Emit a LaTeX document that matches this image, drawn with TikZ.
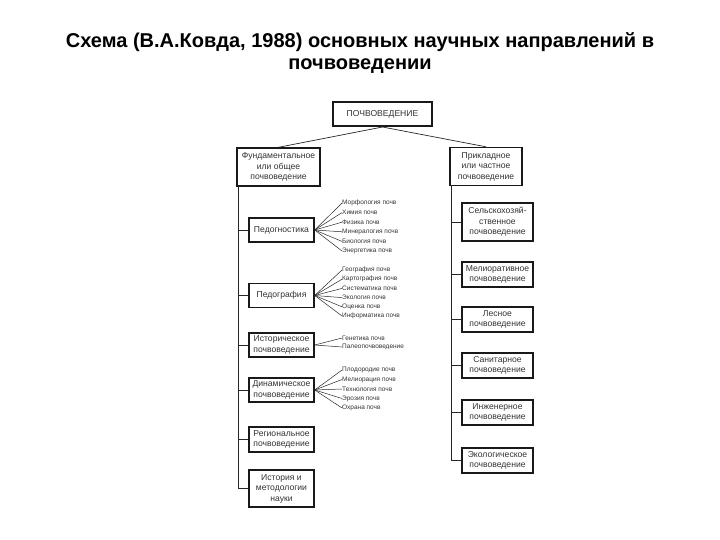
\documentclass[tikz,border=0pt]{standalone}
\usepackage{fontspec}
\setmainfont{Liberation Sans}
\usetikzlibrary{calc}
\begin{document}
\begin{tikzpicture}[x=1pt,y=-1pt,
  boxst/.style={draw=black!90,line width=1.4pt,align=center,inner sep=1pt,
    font=\fontsize{8.6}{10.5}\selectfont,text=black!80},
  item/.style={anchor=west,inner sep=0pt,font=\fontsize{6.5}{7}\selectfont,text=black!80},
  conn/.style={draw=black!85,line width=0.7pt},
  fan/.style={draw=black!85,line width=0.5pt}]
\useasboundingbox (0,0) rectangle (720,540);
\node[font=\bfseries\fontsize{20}{22}\selectfont,align=center] (title) at (360,53)
  {Схема (В.А.Ковда, 1988) основных научных направлений в\\почвоведении};
% top
\node[boxst,line width=2pt,minimum width=99pt,minimum height=24pt] (T) at (382.5,114) {ПОЧВОВЕДЕНИЕ};
\node[boxst,minimum width=83pt,minimum height=38pt] (L0) at (278.5,167) {Фундаментальное\\или общее\\почвоведение};
\node[boxst,minimum width=72pt,minimum height=38pt] (R0) at (486,166.5) {Прикладное\\или частное\\почвоведение};
\draw[conn] (T.south) -- (L0.north);
\draw[conn] (T.south) -- (R0.north);
% left boxes
\node[boxst,minimum width=65pt,minimum height=24pt] (L1) at (281.5,230) {Педогностика};
\node[boxst,minimum width=65pt,minimum height=24pt] (L2) at (281.5,295.5) {Педография};
\node[boxst,minimum width=65pt,minimum height=24pt] (L3) at (281.5,345) {Историческое\\почвоведение};
\node[boxst,minimum width=65pt,minimum height=24pt] (L4) at (281.5,390) {Динамическое\\почвоведение};
\node[boxst,minimum width=65pt,minimum height=25pt] (L5) at (281.5,439.5) {Региональное\\почвоведение};
\node[boxst,minimum width=65pt,minimum height=37pt] (L6) at (281.5,488.5) {История и\\методологии\\науки};
\coordinate (trunkL) at (238,186);
\draw[conn] (trunkL) |- (L6.west);
\foreach \n in {L1,L2,L3,L4,L5} \draw[conn] (\n.west) -- (\n.west -| trunkL);
% right boxes
\node[boxst,minimum width=71pt,minimum height=38pt] (R1) at (497.5,222) {Сельскохозяй-\\ственное\\почвоведение};
\node[boxst,minimum width=71pt,minimum height=25pt] (R2) at (497.5,274.5) {Мелиоративное\\почвоведение};
\node[boxst,minimum width=71pt,minimum height=25pt] (R3) at (497.5,319.5) {Лесное\\почвоведение};
\node[boxst,minimum width=71pt,minimum height=25pt] (R4) at (497.5,365.5) {Санитарное\\почвоведение};
\node[boxst,minimum width=71pt,minimum height=25pt] (R5) at (497.5,412.5) {Инженерное\\почвоведение};
\node[boxst,minimum width=71pt,minimum height=25pt] (R6) at (497.5,460.5) {Экологическое\\почвоведение};
\coordinate (trunkR) at (451,185.5);
\draw[conn] (trunkR) |- (R6.west);
\foreach \n in {R1,R2,R3,R4,R5} \draw[conn] (\n.west) -- (\n.west -| trunkR);
% lists
\node[item] (a1) at (342,203) {Морфология почв};
\node[item] (a2) at (342,212.6) {Химия почв};
\node[item] (a3) at (342,222.2) {Физика почв};
\node[item] (a4) at (342,231.8) {Минералогия почв};
\node[item] (a5) at (342,241.4) {Биология почв};
\node[item] (a6) at (342,251) {Энергетика почв};
\foreach \n in {a1,a2,a3,a4,a5,a6} \draw[fan] (L1.east) -- (\n.west);
\node[item] (b1) at (342,270) {География почв};
\node[item] (b2) at (342,279.2) {Картография почв};
\node[item] (b3) at (342,288.4) {Систематика почв};
\node[item] (b4) at (342,297.6) {Экология почв};
\node[item] (b5) at (342,306.8) {Оценка почв};
\node[item] (b6) at (342,316) {Информатика почв};
\foreach \n in {b1,b2,b3,b4,b5,b6} \draw[fan] (L2.east) -- (\n.west);
\node[item] (c1) at (342,338) {Генетика почв};
\node[item] (c2) at (342,347) {Палеопочвоведение};
\foreach \n in {c1,c2} \draw[fan] (L3.east) -- (\n.west);
\node[item] (d1) at (342,370) {Плодородие почв};
\node[item] (d2) at (342,379.5) {Мелиорация почв};
\node[item] (d3) at (342,389) {Технология почв};
\node[item] (d4) at (342,398.5) {Эрозия почв};
\node[item] (d5) at (342,408) {Охрана почв};
\foreach \n in {d1,d2,d3,d4,d5} \draw[fan] (L4.east) -- (\n.west);
\end{tikzpicture}
\end{document}
